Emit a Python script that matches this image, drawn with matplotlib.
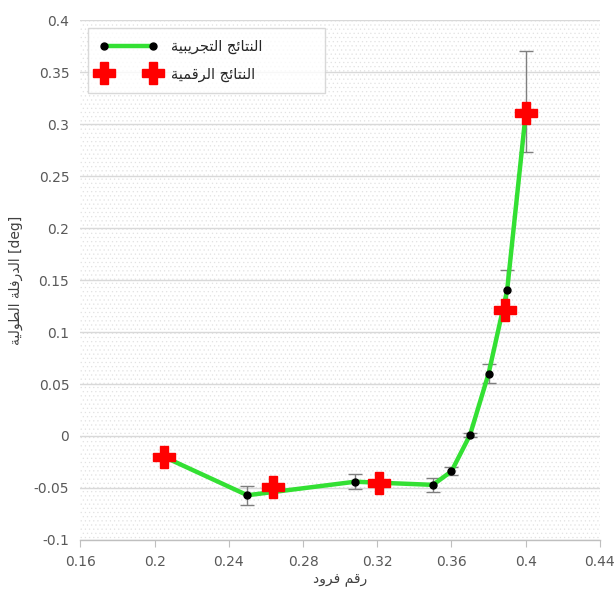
import matplotlib
matplotlib.use("Agg")
import matplotlib.pyplot as plt
from matplotlib.patches import Rectangle

# ---------------- data ----------------
exp_x = [0.205, 0.25, 0.308, 0.35, 0.36, 0.37, 0.38, 0.39, 0.40]
exp_y = [-0.02, -0.057, -0.044, -0.047, -0.034, 0.001, 0.06, 0.14, 0.31]
exp_err_lo = [0.0, 0.009, 0.007, 0.007, 0.004, 0.002, 0.009, 0.02, 0.037]
exp_err_hi = [0.0, 0.009, 0.007, 0.007, 0.004, 0.002, 0.009, 0.02, 0.06]

num_x = [0.205, 0.264, 0.321, 0.389, 0.40]
num_y = [-0.02, -0.049, -0.045, 0.121, 0.311]

x_ticks = [0.16, 0.2, 0.24, 0.28, 0.32, 0.36, 0.4, 0.44]
x_labels = ["0.16", "0.2", "0.24", "0.28", "0.32", "0.36", "0.4", "0.44"]
y_ticks = [-0.1, -0.05, 0, 0.05, 0.1, 0.15, 0.2, 0.25, 0.3, 0.35, 0.4]
y_labels = ["-0.1", "-0.05", "0", "0.05", "0.1", "0.15", "0.2", "0.25", "0.3", "0.35", "0.4"]

label_exp = "النتائج التجريبية"
label_num = "النتائج الرقمية"
ylabel_ar = "الدرفلة الطولية"
ylabel_unit = "[deg]"
xlabel_ar = "رقم فرود"

# ------------- minimal Arabic shaping (matplotlib has no shaping) -------------
FORMS = {
    # char: (isolated, final, initial, medial) ; None = not joining on that side
    "ا": ("\uFE8D", "\uFE8E", None, None),
    "ب": ("\uFE8F", "\uFE90", "\uFE91", "\uFE92"),
    "ة": ("\uFE93", "\uFE94", None, None),
    "ت": ("\uFE95", "\uFE96", "\uFE97", "\uFE98"),
    "ج": ("\uFE9D", "\uFE9E", "\uFE9F", "\uFEA0"),
    "د": ("\uFEA9", "\uFEAA", None, None),
    "ر": ("\uFEAD", "\uFEAE", None, None),
    "ط": ("\uFEC1", "\uFEC2", "\uFEC3", "\uFEC4"),
    "ف": ("\uFED1", "\uFED2", "\uFED3", "\uFED4"),
    "ق": ("\uFED5", "\uFED6", "\uFED7", "\uFED8"),
    "ل": ("\uFEDD", "\uFEDE", "\uFEDF", "\uFEE0"),
    "م": ("\uFEE1", "\uFEE2", "\uFEE3", "\uFEE4"),
    "ن": ("\uFEE5", "\uFEE6", "\uFEE7", "\uFEE8"),
    "ئ": ("\uFE89", "\uFE8A", "\uFE8B", "\uFE8C"),
    "و": ("\uFEED", "\uFEEE", None, None),
    "ي": ("\uFEF1", "\uFEF2", "\uFEF3", "\uFEF4"),
}


def dual(c):
    return c in FORMS and FORMS[c][2] is not None


def shape(text):
    out = []
    n = len(text)
    for i, c in enumerate(text):
        if c not in FORMS:
            out.append(c)
            continue
        prev_c = text[i - 1] if i > 0 else ""
        next_c = text[i + 1] if i < n - 1 else ""
        join_prev = dual(prev_c)
        join_next = dual(c) and next_c in FORMS
        iso, fin, ini, med = FORMS[c]
        if join_prev and join_next:
            out.append(med)
        elif join_prev:
            out.append(fin)
        elif join_next:
            out.append(ini)
        else:
            out.append(iso)
    return "".join(out)[::-1]


plt.rcParams["font.family"] = ["DejaVu Sans"]
plt.rcParams["hatch.linewidth"] = 0.4

fig = plt.figure(figsize=(6.14, 5.94), dpi=100)
ax = fig.add_axes([0.131, 0.091, 0.846, 0.875])

# dotted pattern background
bg = Rectangle((0, 0), 1, 1, transform=ax.transAxes, facecolor="white",
               edgecolor="#e2e2e2", hatch="....", lw=0, zorder=0)
ax.add_patch(bg)

ax.set_xlim(0.16, 0.44)
ax.set_ylim(-0.1, 0.4)
ax.set_xticks(x_ticks)
ax.set_xticklabels(x_labels)
ax.set_yticks(y_ticks)
ax.set_yticklabels(y_labels)
ax.yaxis.grid(True, color="#d9d9d9", lw=1.0, zorder=1)
ax.set_axisbelow(True)

for s in ["top", "right", "left"]:
    ax.spines[s].set_visible(False)
ax.spines["bottom"].set_color("#bfbfbf")
ax.spines["bottom"].set_linewidth(1.0)
ax.tick_params(axis="x", direction="out", length=5, color="#bfbfbf",
               labelcolor="#595959", labelsize=10, pad=6)
ax.tick_params(axis="y", length=0, labelcolor="#595959", labelsize=10, pad=8)

# error bars
ax.errorbar(exp_x, exp_y, yerr=[exp_err_lo, exp_err_hi], fmt="none",
            ecolor="#7f7f7f", elinewidth=1.0, capsize=5, capthick=1.0, zorder=2)

# experimental line
ax.plot(exp_x, exp_y, color="#33e033", lw=3.2, marker="o", markersize=5,
        markerfacecolor="black", markeredgecolor="black", zorder=3,
        label=shape(label_exp))

# numerical results
ax.plot(num_x, num_y, linestyle="none", marker="P", markersize=16,
        markerfacecolor="#ff0000", markeredgecolor="#ff0000", zorder=4,
        label=shape(label_num))

ax.set_xlabel(shape(xlabel_ar), fontsize=10, color="#404040", labelpad=2)
ax.set_ylabel(shape(ylabel_ar) + " " + ylabel_unit, fontsize=10,
              color="#404040", labelpad=8)

leg = ax.legend(loc="upper left", bbox_to_anchor=(0.015, 0.86, 0.456, 0.125),
                mode="expand", numpoints=2,
                fancybox=False, frameon=True, fontsize=10.5, handlelength=4.0,
                borderpad=0.75, labelspacing=0.85, handletextpad=0.9,
                borderaxespad=0.0)
leg.get_frame().set_edgecolor("#d0d0d0")
leg.get_frame().set_linewidth(1.0)
for t in leg.get_texts():
    t.set_color("#262626")

fig.savefig("out.png", dpi=100)
